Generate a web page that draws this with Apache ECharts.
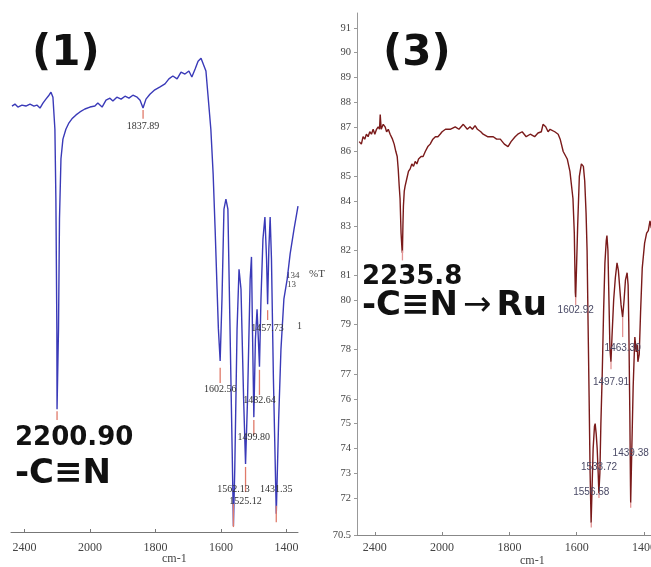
<!DOCTYPE html>
<html>
<head>
<meta charset="utf-8">
<script src="https://cdn.jsdelivr.net/npm/echarts@6/dist/echarts.min.js"></script>
<style>
html,body{margin:0;padding:0;background:#fff;}
#c{width:651px;height:567px;}
</style>
</head>
<body>
<div id="c"></div>
<script>
// ---------- DATA ----------
// Spectrum (1): wavenumber (cm-1) and relative transmittance (arbitrary %T scale)
var wn1 = [2476,2458,2440,2415,2391,2366,2342,2324,2305,2287,2269,2250,2238,2226,2214,2208,2202,2200.9,2192,2186,2177,2165,2147,2128,2110,2085,2061,2031,2000,1985,1976,1963,1951,1939,1930,1918,1905,1893,1881,1869,1856,1847,1838,1829,1817,1802,1786,1771,1759,1747,1734,1722,1710,1698,1689,1679,1670,1661,1655,1646,1640,1631,1624,1618,1612,1608,1602.6,1597,1591,1585,1579,1573,1566,1562.1,1558,1551,1545,1539,1531,1525.1,1519,1511,1507,1504,1499.8,1495,1490,1486,1482.6,1478,1472,1466,1461,1457.7,1454,1450,1446,1440,1431.3,1424,1417,1408,1398,1389,1377,1365];
var t1 = [86.4,86.8,86.2,86.6,86.4,86.8,86.4,86.6,86.0,87.0,87.8,88.6,89.2,88.2,81.7,67.5,41.2,24.9,41.2,63.5,75.7,79.7,81.7,83.0,83.8,84.6,85.2,85.8,86.2,86.4,87.0,86.2,87.6,88.0,87.4,88.2,87.8,88.4,88.0,88.6,88.2,87.6,86.0,87.8,88.8,89.7,90.3,90.9,91.9,92.5,91.9,93.3,92.9,93.5,92.3,93.9,95.5,96.1,95.7,93.5,88.8,81.7,72.6,61.5,49.3,41.2,34.7,47.3,65.5,67.5,65.5,43.2,16.8,1.2,12.8,41.2,53.3,49.3,27.0,13.8,27.0,51.3,55.8,41.2,23.3,39.1,45.2,39.1,33.5,47.3,59.4,63.9,55.4,46.2,57.4,63.9,55.4,31.0,3.7,22.9,37.1,47.3,51.3,56.4,61.5,66.1];

// Spectrum (3): wavenumber (cm-1) and %T
var wn3 = [2493,2480,2470,2460,2450,2440,2430,2420,2410,2400,2390,2380,2372,2368,2362,2350,2339,2330,2320,2309,2295,2285,2275,2267,2261,2255,2250,2244,2238,2236,2233,2230,2225,2220,2210,2200,2190,2180,2170,2160,2150,2140,2125,2113,2100,2085,2071,2055,2040,2025,2012,2000,1990,1976,1961,1950,1937,1925,1917,1910,1902,1895,1885,1878,1865,1855,1848,1838,1827,1815,1804,1795,1783,1775,1762,1750,1738,1725,1715,1705,1700,1692,1685,1679,1665,1655,1649,1640,1628,1620,1611,1607,1604,1602.9,1600,1597,1592,1586,1580,1576,1572,1569,1566,1563,1560,1557,1554,1551,1547,1545,1542,1539,1536,1534,1531,1528,1524,1520,1516,1512,1510,1507,1504,1501,1498,1495,1490,1485,1480,1476,1472,1468,1463.3,1459,1455,1450,1447,1445,1442,1440,1439.4,1436,1432,1427,1423,1420,1418,1414,1410,1405,1398,1392,1387,1382,1378];
var t3 = [86.4,86.3,86.6,86.5,86.7,86.6,86.8,86.7,86.9,86.7,86.9,87.0,86.9,87.5,86.9,87.1,87.0,86.8,86.9,86.7,86.5,86.3,86.0,85.8,85.3,84.6,84.1,82.7,82.0,81.9,83.0,83.8,84.4,84.6,84.9,85.2,85.3,85.5,85.4,85.6,85.5,85.7,85.8,85.8,86.0,86.2,86.3,86.5,86.6,86.6,86.7,86.8,86.9,86.9,87.0,86.9,87.1,86.9,87.0,86.9,87.05,86.9,86.8,86.7,86.6,86.6,86.6,86.5,86.5,86.3,86.2,86.4,86.6,86.7,86.8,86.6,86.7,86.6,86.75,86.8,87.1,87.0,86.8,86.9,86.8,86.7,86.5,86.0,85.7,85.2,84.1,82.7,80.3,80.1,81.5,83.0,85.0,85.5,85.4,84.8,83.5,82.0,79.0,76.1,73.0,71.0,72.5,74.0,74.9,75.0,74.6,74.0,73.0,72.2,73.0,75.0,77.0,79.5,81.5,82.4,82.6,82.0,80.0,78.0,77.5,78.5,80.0,80.9,81.5,81.2,80.5,79.8,79.3,80.0,80.8,81.1,80.6,79.0,75.5,72.5,71.8,74.0,76.5,78.5,77.9,78.2,77.5,77.8,79.5,81.3,82.3,82.7,82.8,83.2,82.9];

// Peak picks: wavenumber, marker top, marker bottom, label level
var peakWn1  = [2200.90,1837.89,1602.56,1482.64,1499.80,1457.73,1525.12,1431.35,1562.13];
var mTop1    = [24.5,85.6,33.3,32.9,22.7,45.0,13.2,5.3,5.7];
var mBot1    = [22.7,83.8,30.2,27.8,19.7,43.0,8.1,2.0,1.0];
var labWn1   = [1837.89,1602.56,1482.64,1499.80,1457.73,1562.13,1525.12,1431.35];
var labT1    = [82.2,29.0,26.6,19.1,41.4,8.7,6.3,8.7];

var peakWn3  = [2235.8,1602.92,1463.30,1497.91,1439.38,1533.72,1556.58];
var mTop3    = [82.0,80.1,79.3,77.5,71.8,72.2,71.0];
var mBot3    = [81.6,79.8,78.5,77.2,71.6,72.0,70.8];
var labWn3   = [1602.92,1463.30,1497.91,1439.38,1533.72,1556.58];
var labT3    = [79.6,78.06,76.68,73.8,73.25,72.24];

var xTickWn  = [2400,2000,1800,1600,1400];
var yTicks3  = [70.5,72,73,74,75,76,77,78,79,80,81,82,83,84,85,86,87,88,89,90,91];

// ---------- axis scale (IR half-scale above 2000 cm-1) ----------
function tx(w){ return w > 2000 ? 2000 + (w - 2000) / 2 : w; }
function untx(t){ return t > 2000 ? 2000 + (t - 2000) * 2 : t; }

function pairs(xs, ys){ return xs.map(function(w,i){ return [tx(w), ys[i]]; }); }

function markerSeries(idx, wns, tops, bots, color){
  return {
    type:'custom', xAxisIndex:idx, yAxisIndex:idx, silent:true, z:3,
    data: wns.map(function(w,i){ return [tx(w), tops[i], bots[i]]; }),
    renderItem: function(params, api){
      var a = api.coord([api.value(0), api.value(1)]);
      var b = api.coord([api.value(0), api.value(2)]);
      return {type:'line', shape:{x1:a[0],y1:a[1],x2:b[0],y2:b[1]},
              style:{stroke:color, lineWidth:1.3}};
    }
  };
}
function labelSeries(idx, wns, ts, font, color){
  return {
    type:'custom', xAxisIndex:idx, yAxisIndex:idx, silent:true, z:5, clip:false,
    data: wns.map(function(w,i){ return [tx(w), ts[i]]; }),
    renderItem: function(params, api){
      var p = api.coord([api.value(0), api.value(1)]);
      return {type:'text', x:p[0], y:p[1],
              style:{text: wns[params.dataIndex].toFixed(2), font:font, fill:color,
                     align:'center', verticalAlign:'middle'}};
    }
  };
}

var xLabelFmt = function(v){ return String(Math.round(untx(v))); };
var xCustom = xTickWn.map(tx);

var chart = echarts.init(document.getElementById('c'));
chart.setOption({
  animation:false,
  backgroundColor:'#fff',
  grid:[
    {left:11, top:39, width:287, height:493, containLabel:false, outerBoundsMode:'none'},
    {left:357, top:13, width:294, height:522, containLabel:false, outerBoundsMode:'none'}
  ],
  xAxis:[
    {type:'value', gridIndex:0, inverse:true, min:1365, max:2241,
     axisLine:{show:true, lineStyle:{color:'#777', width:1}},
     axisTick:{show:true, inside:true, length:3, customValues:xCustom, lineStyle:{color:'#777'}},
     axisLabel:{show:true, customValues:xCustom, formatter:xLabelFmt, margin:10,
                fontFamily:'Liberation Serif', fontSize:12, color:'#444'},
     splitLine:{show:false}},
    {type:'value', gridIndex:1, inverse:true, min:1379, max:2253,
     axisLine:{show:true, onZero:false, lineStyle:{color:'#888', width:1}},
     axisTick:{show:true, inside:true, length:3, customValues:xCustom, lineStyle:{color:'#888'}},
     axisLabel:{show:true, customValues:xCustom, formatter:xLabelFmt, margin:7,
                fontFamily:'Liberation Serif', fontSize:12, color:'#444'},
     splitLine:{show:false}}
  ],
  yAxis:[
    {type:'value', gridIndex:0, min:0, max:100, show:false},
    {type:'value', gridIndex:1, min:70.5, max:91.6,
     axisLine:{show:true, lineStyle:{color:'#999', width:1}},
     axisTick:{show:true, inside:false, length:3, customValues:yTicks3, lineStyle:{color:'#999'}},
     axisLabel:{show:true, customValues:yTicks3, margin:6,
                formatter:function(v){ return String(v); },
                fontFamily:'Liberation Serif', fontSize:10.5, color:'#444'},
     splitLine:{show:false}}
  ],
  series:[
    {type:'line', xAxisIndex:0, yAxisIndex:0, data:pairs(wn1,t1), symbol:'none',
     lineStyle:{color:'#3a3ab8', width:1.4}, z:2},
    {type:'line', xAxisIndex:1, yAxisIndex:1, data:pairs(wn3,t3), symbol:'none',
     lineStyle:{color:'#7a1a1a', width:1.4}, z:2},
    markerSeries(0, peakWn1, mTop1, mBot1, '#e07a6a'),
    markerSeries(1, peakWn3, mTop3, mBot3, '#e49494'),
    labelSeries(0, labWn1, labT1, '10px "Liberation Serif"', '#333'),
    labelSeries(1, labWn3, labT3, '10px "Liberation Sans"', '#4a4a66')
  ],
  graphic:[
    {type:'text', left:32, top:33, style:{text:'(1)', font:'bold 42px "DejaVu Sans"', fill:'#111'}},
    {type:'text', left:15, top:425, style:{text:'2200.90', font:'bold 26px "DejaVu Sans"', fill:'#111'}},
    {type:'text', left:15, top:457, style:{text:'-C≡N', font:'bold 34px "DejaVu Sans"', fill:'#111'}},
    {type:'text', left:383, top:33, style:{text:'(3)', font:'bold 42px "DejaVu Sans"', fill:'#111'}},
    {type:'text', left:362, top:264, style:{text:'2235.8', font:'bold 26px "DejaVu Sans"', fill:'#111'}},
    {type:'text', left:362, top:289, style:{
      text:'{b|-C≡N}{a|→}{b|Ru}',
      rich:{b:{font:'bold 34px "DejaVu Sans"', fill:'#111'},
            a:{font:'34px "DejaVu Sans"', fill:'#111', padding:[0,5,0,5]}}}},
    {type:'text', left:309, top:269, style:{text:'%T', font:'11px "Liberation Serif"', fill:'#444'}},
    {type:'text', left:286, top:271, style:{text:'134', font:'9px "Liberation Serif"', fill:'#444'}},
    {type:'text', left:287, top:280, style:{text:'13', font:'9px "Liberation Serif"', fill:'#444'}},
    {type:'text', left:297, top:321, style:{text:'1', font:'10px "Liberation Serif"', fill:'#444'}},
    {type:'text', left:162, top:553, style:{text:'cm-1', font:'12px "Liberation Serif"', fill:'#444'}},
    {type:'text', left:520, top:555, style:{text:'cm-1', font:'12px "Liberation Serif"', fill:'#444'}}
  ]
});
</script>
</body>
</html>
